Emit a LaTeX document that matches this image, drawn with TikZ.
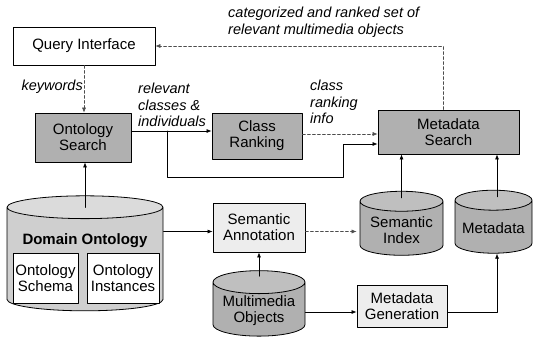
\documentclass[tikz,border=0pt]{standalone}
\usepackage{fontspec}
\setmainfont{Liberation Sans}
\usetikzlibrary{arrows.meta,shapes.geometric}

\tikzset{
  box/.style={draw, line width=0.8pt, align=center, inner sep=2pt},
  darkbox/.style={box, fill=gray!62},
  lightbox/.style={box, fill=gray!14},
  db/.style={cylinder, shape border rotate=90, aspect=0.3, draw, line width=0.8pt,
    align=center, inner sep=2pt, cylinder uses custom fill,
    cylinder body fill=gray!62, cylinder end fill=gray!50},
  lbl/.style={font=\fontsize{14.5}{16.5}\selectfont\itshape, align=left, inner sep=0pt},
  flow/.style={-{Latex[length=5pt,width=4pt]}, line width=0.7pt},
  weak/.style={flow, densely dashed, draw=gray!60!black, line width=0.5pt},
}

\begin{document}
\begin{tikzpicture}[x=1pt,y=-1pt,font=\fontsize{15}{16}\selectfont,line cap=round,line join=round]
  \useasboundingbox (0,0) rectangle (534,345);
  % boxes
  \node[box, minimum width=142, minimum height=38] (qi) at (84,46) {Query Interface};
  \node[darkbox, minimum width=96, minimum height=49] (os) at (83,137.5) {Ontology\\Search};
  \node[darkbox, minimum width=90, minimum height=46] (cr) at (257,136) {Class\\Ranking};
  \node[darkbox, minimum width=141, minimum height=44] (ms) at (448.5,132) {Metadata\\Search};
  \node[lightbox, minimum width=92, minimum height=49] (sa) at (259,227.5) {Semantic\\Annotation};
  \node[lightbox, minimum width=90, minimum height=42] (mg) at (402,306) {Metadata\\Generation};
  % databases
  \node[db, aspect=0.15, minimum width=156, minimum height=115, cylinder body fill=gray!38,
    cylinder end fill=gray!28] (do) at (85,260.5) {\rule{148pt}{0pt}};
  \node[font=\fontsize{15}{16}\selectfont\bfseries] (dolbl) at (85,241) {Domain Ontology};
  \node[box, fill=white, minimum width=65, minimum height=50] (osch) at (45.5,278) {Ontology\\Schema};
  \node[box, fill=white, minimum width=72, minimum height=50] (oins) at (123,278) {Ontology\\Instances};
  \node[db, minimum width=83, minimum height=64] (si) at (401.5,230) {Semantic\\Index};
  \node[db, minimum width=77, minimum height=63] (md) at (493.5,228.5) {Metadata};
  \node[db, minimum width=92, minimum height=64] (mo) at (259,311) {Multimedia\\Objects};
  % labels
  \node[lbl, anchor=north west] (catlbl) at (228,7) {categorized and ranked set of\\relevant multimedia objects};
  \node[lbl, anchor=north east] (kwlbl) at (83,80) {keywords};
  \node[lbl, anchor=north west] (rellbl) at (138,83) {relevant\\classes \&\\individuals};
  \node[lbl, anchor=north west] (crlbl) at (310,80) {class\\ranking\\info};
  % connectors
  \coordinate (br) at (167,131);
  \coordinate (bend) at (343,177);
  \draw[weak] ([xshift=-5.5pt]ms.north) |- (qi.east);
  \draw[weak] (qi.south) -- (qi.south |- os.north);
  \draw[flow] ([yshift=-12pt]do.north) -- (do.north |- os.south);
  \draw[flow] ([yshift=5pt]cr.west -| os.east) -- ([yshift=5pt]cr.west);
  \draw[flow] (br) |- (bend) |- ([yshift=-12pt]ms.west);
  \draw[weak] ([yshift=2pt]cr.east) -- ([yshift=2pt]cr.east -| ms.west);
  \draw[flow] ([yshift=-4pt]sa.west -| do.east) -- ([yshift=-4pt]sa.west);
  \draw[weak] ([yshift=-4pt]sa.east) -- ([yshift=-4pt,xshift=-3pt]sa.east -| si.west);
  \draw[flow] ([yshift=-7pt]si.north) -- (si.north |- ms.south);
  \draw[flow] ([xshift=3.5pt,yshift=-7pt]md.north) -- ([xshift=3.5pt]md.north |- ms.south);
  \draw[flow] ([yshift=-6pt]mo.north) -- (mo.north |- sa.south);
  \draw[flow] ([yshift=-6pt]mg.west -| mo.east) -- ([yshift=-6pt]mg.west);
  \draw[flow] ([yshift=-6pt]mg.east) -| ([xshift=3.5pt]md.south);
\end{tikzpicture}
\end{document}
